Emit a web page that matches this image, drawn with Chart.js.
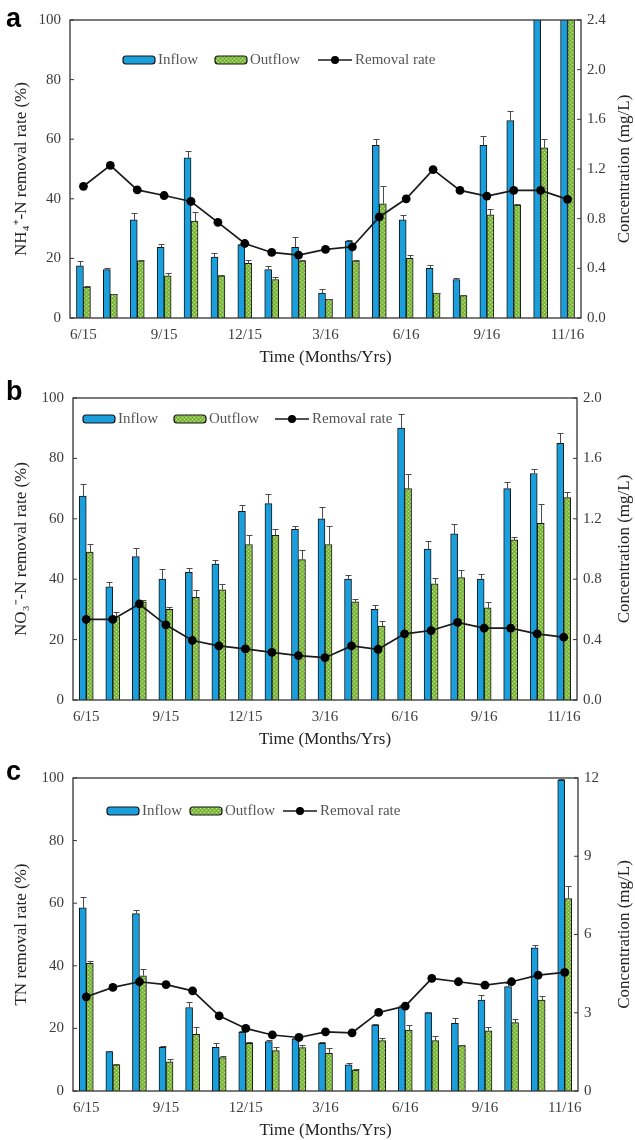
<!DOCTYPE html>
<html><head><meta charset="utf-8">
<script src="https://cdn.jsdelivr.net/npm/chart.js@4.4.1/dist/chart.umd.min.js"></script>
<style>
html,body{margin:0;padding:0;background:#fff;}
#wrap{position:relative;width:635px;height:1140px;overflow:hidden;}
.panel{position:absolute;left:0;width:635px;}
</style></head><body>
<div id="wrap">
  <div class="panel" style="top:0;height:375px"><canvas id="ca"></canvas></div>
  <div class="panel" style="top:375px;height:385px"><canvas id="cb"></canvas></div>
  <div class="panel" style="top:760px;height:380px"><canvas id="cc"></canvas></div>
</div>
<script>
// ---------- DATA ----------
const tickLabels = ['6/15','','','9/15','','','12/15','','','3/16','','','6/16','','','9/16','','','11/16'];

// Panel a: NH4+-N
const nh4Inflow     = [0.42,0.39,0.79,0.57,1.29,0.49,0.59,0.39,0.57,0.20,0.62,1.39,0.79,0.40,0.31,1.39,1.59,2.70,2.80];
const nh4InflowErr  = [0.04,0.01,0.053,0.027,0.053,0.035,0.01,0.027,0.083,0.035,0.01,0.05,0.04,0.027,0.01,0.075,0.08,0,0];
const nh4Outflow    = [0.25,0.19,0.46,0.34,0.78,0.34,0.44,0.31,0.46,0.15,0.46,0.92,0.48,0.20,0.18,0.83,0.91,1.37,2.60];
const nh4OutflowErr = [0.01,0.005,0.01,0.025,0.072,0.005,0.03,0.02,0.005,0.005,0.005,0.14,0.027,0.005,0.005,0.05,0.005,0.07,0];
const nh4Removal    = [44.2,51.2,43.0,41.1,39.1,32.1,25.0,22.0,21.1,23.0,23.9,33.9,40.0,49.8,42.8,40.9,42.8,42.8,39.8];

// Panel b: NO3--N
const no3Inflow     = [1.35,0.75,0.95,0.80,0.845,0.90,1.25,1.30,1.13,1.20,0.80,0.60,1.80,1.00,1.10,0.80,1.40,1.50,1.70];
const no3InflowErr  = [0.08,0.03,0.055,0.07,0.03,0.03,0.04,0.065,0.02,0.08,0.03,0.026,0.095,0.05,0.066,0.034,0.045,0.033,0.07];
const no3Outflow    = [0.98,0.55,0.65,0.60,0.68,0.73,1.03,1.09,0.93,1.03,0.65,0.49,1.40,0.77,0.81,0.61,1.06,1.17,1.34];
const no3OutflowErr = [0.05,0.03,0.01,0.015,0.047,0.04,0.065,0.045,0.066,0.12,0.02,0.03,0.10,0.04,0.05,0.04,0.02,0.13,0.04];
const no3Removal    = [26.7,26.7,31.8,24.9,19.7,17.9,16.9,15.8,14.7,14.0,17.9,16.8,21.9,23.0,25.7,23.8,23.8,21.9,20.8];

// Panel c: TN
const tnInflow      = [7.02,1.51,6.80,1.67,3.20,1.67,2.25,1.89,2.00,1.83,1.00,2.53,3.23,3.00,2.59,3.49,4.00,5.49,11.92];
const tnInflowErr   = [0.42,0.04,0.15,0.06,0.22,0.18,0.05,0.06,0.05,0.06,0.06,0.04,0.05,0.03,0.19,0.19,0.13,0.10,0.06];
const tnOutflow     = [4.89,1.00,4.42,1.12,2.17,1.28,1.83,1.55,1.66,1.44,0.80,1.93,2.34,1.93,1.74,2.31,2.62,3.49,7.38];
const tnOutflowErr  = [0.10,0.05,0.24,0.09,0.27,0.06,0.06,0.15,0.10,0.19,0.06,0.09,0.19,0.18,0.03,0.13,0.13,0.15,0.47];
const tnRemoval     = [30.1,33.1,34.9,34.0,32.0,24.0,20.0,17.9,17.1,18.9,18.6,25.1,27.1,36.0,34.9,33.8,34.9,37.0,37.9];

// ---------- STYLE ----------
const SERIF = '"Liberation Serif","Times New Roman",serif';
const SANS = '"Liberation Sans",Arial,sans-serif';
const BLUE = '#1a9fdc';
const TICK = '#3c3c3c';
const TITLE = '#222';
const LEGEND = '#555';
const EDGE = '#151515';

function makeGreen() {
  const pc = document.createElement('canvas');
  pc.width = 4; pc.height = 4;
  const g = pc.getContext('2d');
  g.fillStyle = '#84bd45'; g.fillRect(0,0,4,4);
  g.fillStyle = '#c6e290';
  g.fillRect(0,0,1,1); g.fillRect(2,2,1,1);
  g.fillStyle = '#6fa636';
  g.fillRect(2,0,1,1); g.fillRect(0,2,1,1);
  return document.createElement('canvas').getContext('2d').createPattern(pc,'repeat');
}
const GREEN = makeGreen();

const decor = {
  id: 'decor',
  afterDatasetDraw(chart, args) {
    const ds = chart.data.datasets[args.index];
    if (!ds.errors) return;
    const ys = chart.scales[ds.yAxisID];
    const ca = chart.chartArea;
    const c = chart.ctx;
    c.save();
    c.beginPath(); c.rect(ca.left, ca.top, ca.right-ca.left, ca.bottom-ca.top); c.clip();
    c.strokeStyle = '#4a4a4a'; c.lineWidth = 1;
    args.meta.data.forEach((el, i) => {
      const e = ds.errors[i];
      if (!e) return;
      const v = ds.data[i];
      const y0 = ys.getPixelForValue(v), y1 = ys.getPixelForValue(v + e);
      const x = Math.round(el.x) + 0.5;
      c.beginPath();
      c.moveTo(x, y0); c.lineTo(x, Math.round(y1)+0.5);
      c.moveTo(x-3, Math.round(y1)+0.5); c.lineTo(x+3, Math.round(y1)+0.5);
      c.stroke();
    });
    c.restore();
  },
  afterDraw(chart, args, o) {
    const c = chart.ctx, ca = chart.chartArea;
    c.save();
    // frame
    c.strokeStyle = '#333'; c.lineWidth = 1.3;
    c.strokeRect(ca.left, ca.top, ca.right-ca.left, ca.bottom-ca.top);
    // inward ticks
    c.lineWidth = 1;
    chart.scales.y.ticks.forEach(t => {
      const y = chart.scales.y.getPixelForValue(t.value);
      c.beginPath(); c.moveTo(ca.left, y); c.lineTo(ca.left+4, y); c.stroke();
    });
    chart.scales.y1.ticks.forEach(t => {
      const y = chart.scales.y1.getPixelForValue(t.value);
      c.beginPath(); c.moveTo(ca.right, y); c.lineTo(ca.right-4, y); c.stroke();
    });
    // panel letter
    c.fillStyle = '#000';
    c.font = 'bold 27px ' + SANS;
    c.textAlign = 'left'; c.textBaseline = 'alphabetic';
    c.fillText(o.letter, o.letterX, o.letterY);
    // axis titles
    c.fillStyle = TITLE;
    c.font = '17px ' + SERIF;
    c.textAlign = 'center'; c.textBaseline = 'middle';
    c.fillText('Time (Months/Yrs)', (ca.left+ca.right)/2, ca.bottom + 40);
    const midY = (ca.top+ca.bottom)/2;
    c.save(); c.translate(o.leftTitleX, midY); c.rotate(-Math.PI/2);
    c.fillText(o.leftTitle, 0, 0); c.restore();
    c.save(); c.translate(o.rightTitleX, midY); c.rotate(-Math.PI/2);
    c.fillText('Concentration (mg/L)', 0, 0); c.restore();
    // legend
    const ly = o.legendY;
    c.font = '15px ' + SERIF;
    c.textAlign = 'left'; c.textBaseline = 'middle';
    const box = (x, fill) => {
      c.beginPath();
      c.roundRect(x, ly-4, 32, 8, 3);
      c.fillStyle = fill; c.fill();
      c.strokeStyle = EDGE; c.lineWidth = 1.2; c.stroke();
    };
    box(o.lg[0], BLUE);
    c.fillStyle = LEGEND; c.fillText('Inflow', o.lg[0]+35, ly);
    box(o.lg[1], GREEN);
    c.fillStyle = LEGEND; c.fillText('Outflow', o.lg[1]+35, ly);
    c.strokeStyle = '#1a1a1a'; c.lineWidth = 1.5;
    c.beginPath(); c.moveTo(o.lg[2], ly); c.lineTo(o.lg[2]+34, ly); c.stroke();
    c.beginPath(); c.arc(o.lg[2]+17, ly, 4, 0, Math.PI*2); c.fillStyle = '#000'; c.fill();
    c.fillStyle = LEGEND; c.fillText('Removal rate', o.lg[2]+37, ly);
    c.restore();
  }
};

function build(id, p) {
  return new Chart(document.getElementById(id), {
    data: {
      labels: tickLabels,
      datasets: [
        {type:'line', label:'Removal rate', data:p.removal, yAxisID:'y', order:0,
         borderColor:'#1a1a1a', borderWidth:1.7, tension:0,
         pointRadius:4.4, pointBackgroundColor:'#000', pointBorderColor:'#000', pointBorderWidth:0},
        {type:'bar', label:'Inflow', data:p.inflow, errors:p.inflowErr, yAxisID:'y1', order:1,
         backgroundColor:BLUE, borderColor:EDGE, borderWidth:1, barThickness:7},
        {type:'bar', label:'Outflow', data:p.outflow, errors:p.outflowErr, yAxisID:'y1', order:2,
         backgroundColor:GREEN, borderColor:EDGE, borderWidth:1, barThickness:7}
      ]
    },
    options: {
      responsive:true, maintainAspectRatio:false, animation:false, events:[],
      layout:{padding:{top:p.top, left:0, right:0, bottom:0}},
      scales: {
        x: {type:'category', offset:true,
            grid:{display:false, drawTicks:false}, border:{display:false},
            ticks:{autoSkip:false, maxRotation:0, minRotation:0, padding:8, color:TICK,
                   font:{family:SERIF, size:15}},
            afterFit: s => { s.height = p.xH; }},
        y: {position:'left', min:0, max:100,
            grid:{display:false, drawTicks:false}, border:{display:false},
            ticks:{stepSize:20, padding:9, color:TICK, font:{family:SERIF, size:15}},
            afterFit: s => { s.width = p.leftW; }},
        y1: {position:'right', min:0, max:p.rmax,
            grid:{display:false, drawTicks:false}, border:{display:false},
            ticks:{stepSize:p.rstep, padding:6, color:TICK, font:{family:SERIF, size:15},
                   callback: v => p.rdec ? Number(v).toFixed(1) : String(Math.round(v))},
            afterFit: s => { s.width = p.rightW; }}
      },
      plugins: {
        legend:{display:false}, tooltip:{enabled:false},
        decor: p.decor
      }
    },
    plugins:[decor]
  });
}

build('ca', {removal:nh4Removal, inflow:nh4Inflow, inflowErr:nh4InflowErr, outflow:nh4Outflow, outflowErr:nh4OutflowErr,
  top:20, xH:57, leftW:70, rightW:54, rmax:2.4, rstep:0.4, rdec:true,
  decor:{letter:'a', letterX:6, letterY:27, leftTitle:'NH\u2084\u207A-N removal rate (%)', leftTitleX:22, rightTitleX:625,
         legendY:60, lg:[123,215,318]}});

build('cb', {removal:no3Removal, inflow:no3Inflow, inflowErr:no3InflowErr, outflow:no3Outflow, outflowErr:no3OutflowErr,
  top:23, xH:60, leftW:73, rightW:58, rmax:2.0, rstep:0.4, rdec:true,
  decor:{letter:'b', letterX:6, letterY:25, leftTitle:'NO\u2083\u207B-N removal rate (%)', leftTitleX:22, rightTitleX:625,
         legendY:44, lg:[83,174,275]}});

build('cc', {removal:tnRemoval, inflow:tnInflow, inflowErr:tnInflowErr, outflow:tnOutflow, outflowErr:tnOutflowErr,
  top:17, xH:49, leftW:73, rightW:57, rmax:12, rstep:3, rdec:false,
  decor:{letter:'c', letterX:6, letterY:20, leftTitle:'TN removal rate (%)', leftTitleX:22, rightTitleX:625,
         legendY:51, lg:[107,190,283]}});
</script>
</body></html>
